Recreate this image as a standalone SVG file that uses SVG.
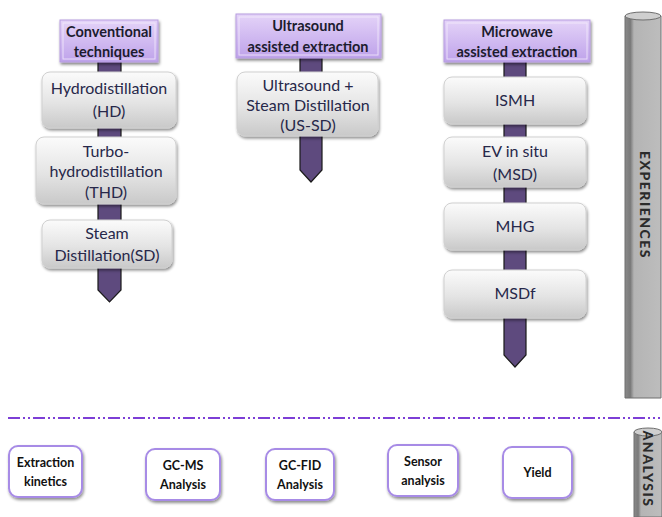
<svg xmlns="http://www.w3.org/2000/svg" width="662" height="517" viewBox="0 0 662 517">
<defs>
  <linearGradient id="hdr" x1="0" y1="0" x2="0" y2="1">
    <stop offset="0" stop-color="#e4d3f8"/>
    <stop offset="1" stop-color="#bea2ea"/>
  </linearGradient>
  <linearGradient id="box" x1="0" y1="0" x2="0" y2="1">
    <stop offset="0" stop-color="#fbfbfb"/>
    <stop offset="0.55" stop-color="#e4e4e4"/>
    <stop offset="1" stop-color="#c9c9c9"/>
  </linearGradient>
  <linearGradient id="cyl" x1="0" y1="0" x2="1" y2="0">
    <stop offset="0" stop-color="#8a8a8a"/>
    <stop offset="0.15" stop-color="#7a7a7a"/>
    <stop offset="0.25" stop-color="#b4b4b4"/>
    <stop offset="1" stop-color="#bdbdbd"/>
  </linearGradient>
  <filter id="sh" x="-20%" y="-20%" width="140%" height="150%">
    <feGaussianBlur in="SourceAlpha" stdDeviation="1.5"/>
    <feOffset dx="1" dy="2" result="b"/>
    <feComponentTransfer><feFuncA type="linear" slope="0.45"/></feComponentTransfer>
    <feMerge><feMergeNode/><feMergeNode in="SourceGraphic"/></feMerge>
  </filter>
  <filter id="psh" x="-20%" y="-20%" width="140%" height="150%">
    <feGaussianBlur in="SourceAlpha" stdDeviation="1.5"/>
    <feOffset dx="1" dy="2"/>
    <feComponentTransfer><feFuncA type="linear" slope="0.5"/></feComponentTransfer>
    <feMerge><feMergeNode/><feMergeNode in="SourceGraphic"/></feMerge>
  </filter>
</defs>
<style>
  .hdr { fill: url(#hdr); stroke: #b79ee0; stroke-width: 1; }
  .hdrin { fill: none; stroke: #f4ecfd; stroke-width: 1; opacity: 0.8; }
  .box { fill: url(#box); stroke: #d0d0d0; stroke-width: 1; }
  .shaft { fill: #5e4a7e; stroke: #1a1a1a; stroke-width: 1.2; }
  .ht { font-family: Lato, "Open Sans", sans-serif; font-weight: bold; font-size: 14.5px; fill: #1c1c2e; text-anchor: middle; }
  .bt { font-family: Lato, "Open Sans", sans-serif; font-size: 16px; fill: #27284a; text-anchor: middle; }
  .at { font-family: Lato, "Open Sans", sans-serif; font-weight: bold; font-size: 12.5px; fill: #111; text-anchor: middle; }
  .ab { fill: #ffffff; stroke: #a78be6; stroke-width: 2; }
  .cyl { fill: url(#cyl); stroke: #6e6e6e; stroke-width: 1; }
  .ct { font-family: Lato, "Open Sans", sans-serif; font-weight: 900; font-size: 14px; letter-spacing: 1.5px; fill: #2b2b2b; text-anchor: middle; }
</style>

<g id="connectors">
  <polygon class="shaft" points="98,60 121,60 121,290 109.5,302 98,290"/>
  <polygon class="shaft" points="300,56 322,56 322,170 311,182 300,170"/>
  <polygon class="shaft" points="504,60 526,60 526,355 515,367 504,355"/>
  <line x1="8" y1="418" x2="660" y2="418" stroke="#7d3fd6" stroke-width="2" stroke-dasharray="12,3,2,3,2,3"/>
</g>

<g id="conventional">
  <rect class="hdr" x="60" y="20" width="98" height="42" filter="url(#psh)"/>
  <rect class="hdrin" x="63" y="23" width="92" height="36"/>
  <text class="ht" x="109" y="37">Conventional</text>
  <text class="ht" x="109" y="57">techniques</text>
</g>
<g id="hd">
  <rect class="box" x="42" y="72" width="134" height="56" rx="8" filter="url(#sh)"/>
  <text class="bt" x="109" y="94">Hydrodistillation</text>
  <text class="bt" x="109" y="117">(HD)</text>
</g>
<g id="thd">
  <rect class="box" x="36" y="137" width="140" height="67" rx="8" filter="url(#sh)"/>
  <text class="bt" x="106" y="157">Turbo-</text>
  <text class="bt" x="106" y="177">hydrodistillation</text>
  <text class="bt" x="106" y="198">(THD)</text>
</g>
<g id="sd">
  <rect class="box" x="42" y="220" width="130" height="48" rx="8" filter="url(#sh)"/>
  <text class="bt" x="107" y="239">Steam</text>
  <text class="bt" x="107" y="261">Distillation(SD)</text>
</g>

<g id="ultrasound">
  <rect class="hdr" x="236" y="14" width="145" height="44" filter="url(#psh)"/>
  <rect class="hdrin" x="239" y="17" width="139" height="38"/>
  <text class="ht" x="308" y="31">Ultrasound</text>
  <text class="ht" x="308" y="52">assisted extraction</text>
</g>
<g id="ussd">
  <rect class="box" x="237" y="72" width="141" height="64" rx="8" filter="url(#sh)"/>
  <text class="bt" x="308" y="91">Ultrasound +</text>
  <text class="bt" x="308" y="111">Steam Distillation</text>
  <text class="bt" x="308" y="131">(US-SD)</text>
</g>

<g id="microwave">
  <rect class="hdr" x="444" y="20" width="146" height="42" filter="url(#psh)"/>
  <rect class="hdrin" x="447" y="23" width="140" height="36"/>
  <text class="ht" x="517" y="37">Microwave</text>
  <text class="ht" x="517" y="57">assisted extraction</text>
</g>
<g id="ismh">
  <rect class="box" x="444" y="77" width="142" height="47" rx="8" filter="url(#sh)"/>
  <text class="bt" x="515" y="106">ISMH</text>
</g>
<g id="msd">
  <rect class="box" x="444" y="137" width="142" height="50" rx="8" filter="url(#sh)"/>
  <text class="bt" x="515" y="157">EV in situ</text>
  <text class="bt" x="515" y="180">(MSD)</text>
</g>
<g id="mhg">
  <rect class="box" x="444" y="203" width="142" height="47" rx="8" filter="url(#sh)"/>
  <text class="bt" x="515" y="232">MHG</text>
</g>
<g id="msdf">
  <rect class="box" x="444" y="270" width="142" height="48" rx="8" filter="url(#sh)"/>
  <text class="bt" x="515" y="299">MSDf</text>
</g>

<g id="experiences">
  <path class="cyl" d="M625,16 L625,398 L661,398 L661,16 Z"/>
  <ellipse cx="643" cy="16" rx="18" ry="4" fill="#cfcfcf" stroke="#6e6e6e" stroke-width="1"/>
  <text class="ct" transform="translate(640,205) rotate(90)">EXPERIENCES</text>
</g>

<g id="kinetics">
  <rect class="ab" x="9" y="446" width="73" height="51" rx="9" filter="url(#sh)"/>
  <text class="at" x="45.5" y="467">Extraction</text>
  <text class="at" x="45.5" y="486">kinetics</text>
</g>
<g id="gcms">
  <rect class="ab" x="146" y="449" width="74" height="51" rx="9" filter="url(#sh)"/>
  <text class="at" x="183" y="470">GC-MS</text>
  <text class="at" x="183" y="489">Analysis</text>
</g>
<g id="gcfid">
  <rect class="ab" x="266" y="449" width="68" height="51" rx="9" filter="url(#sh)"/>
  <text class="at" x="300" y="470">GC-FID</text>
  <text class="at" x="300" y="489">Analysis</text>
</g>
<g id="sensor">
  <rect class="ab" x="388" y="445" width="70" height="51" rx="9" filter="url(#sh)"/>
  <text class="at" x="423" y="466">Sensor</text>
  <text class="at" x="423" y="485">analysis</text>
</g>
<g id="yield">
  <rect class="ab" x="503" y="447" width="69" height="51" rx="9" filter="url(#sh)"/>
  <text class="at" x="537.5" y="477">Yield</text>
</g>

<g id="analysis">
  <path class="cyl" d="M634,432 L634,517 L662,517 L662,432 Z"/>
  <ellipse cx="648" cy="432" rx="14" ry="4" fill="#cfcfcf" stroke="#6e6e6e" stroke-width="1"/>
  <text class="ct" transform="translate(643,469) rotate(90)">ANALYSIS</text>
</g>
</svg>
